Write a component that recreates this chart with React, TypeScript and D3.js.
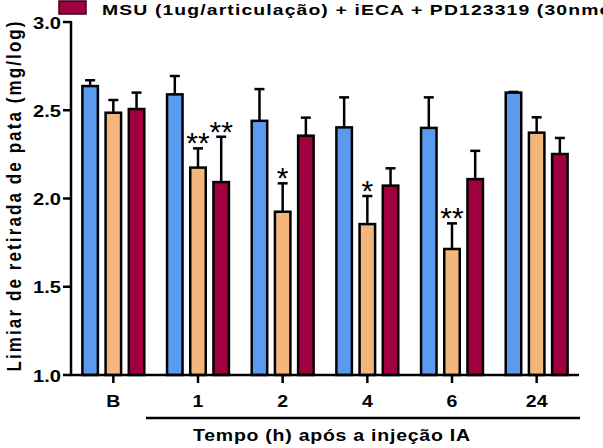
import React from "react";
import * as d3 from "d3";

const categories = ["B", "1", "2", "4", "6", "24"];
const seriesNames = [
  "MSU (1ug/articulação)",
  "MSU (1ug/articulação) + iECA",
  "MSU (1ug/articulação) + iECA + PD123319 (30nmol/articulação)",
];
const blueMean = [2.637, 2.59, 2.44, 2.403, 2.40, 2.60];
const blueSem = [0.033, 0.104, 0.18, 0.17, 0.173, 0.004];
const orangeMean = [2.486, 2.175, 1.925, 1.855, 1.714, 2.373];
const orangeSem = [0.072, 0.109, 0.161, 0.159, 0.145, 0.087];
const redMean = [2.507, 2.093, 2.356, 2.073, 2.11, 2.252];
const redSem = [0.093, 0.257, 0.102, 0.098, 0.16, 0.091];
const orangeStars = ["", "**", "*", "*", "**", ""];
const redStars = ["", "**", "", "", "", ""];
const yTicks = [1.0, 1.5, 2.0, 2.5, 3.0];
const colors = ["#5a9bf0", "#f3b67c", "#a0003f"];
const yLabel = "Limiar de retirada de pata (mg/log)";
const xLabel = "Tempo (h) após a injeção IA";

const W = 603, H = 448;
const x0 = 71, x1 = 579, yTop = 22, yBot = 375;
const FONT = "'Liberation Sans', Arial, sans-serif";
const SX = 1.22;

export default function App() {
  const x = d3.scaleBand<string>().domain(categories).range([x0, x1]).padding(0);
  const y = d3.scaleLinear().domain([1, 3]).range([yBot, yTop]);
  const series = [
    { mean: blueMean, sem: blueSem, stars: categories.map(() => "") },
    { mean: orangeMean, sem: orangeSem, stars: orangeStars },
    { mean: redMean, sem: redSem, stars: redStars },
  ];
  const step = 23.2;
  const bw = 15.5;
  const capW = 10;

  return (
    <svg width={W} height={H} style={{ position: "absolute", left: 0, top: 0, background: "#fff", overflow: "hidden" }}
      fontFamily={FONT}>
      {/* legend (last entry visible, cropped at the top) */}
      <rect x={59} y={1} width={27} height={13} fill={colors[2]} stroke="#3a0016" strokeWidth={1.5} />
      <text transform={`translate(102,15) scale(${SX + 0.03},1)`} fontSize={15.5} fontWeight="bold" letterSpacing={0.9} fill="#000">
        {seriesNames[2]}
      </text>

      {/* bars */}
      {series.map((s, si) =>
        categories.map((c, ci) => {
          const cx = (x(c) as number) + x.bandwidth() / 2 + (si - 1) * step;
          const top = y(s.mean[ci]);
          const eTop = y(s.mean[ci] + s.sem[ci]);
          return (
            <g key={`${si}-${ci}`}>
              <line x1={cx} x2={cx} y1={top} y2={eTop} stroke="#000" strokeWidth={2.5} />
              <line x1={cx - capW / 2} x2={cx + capW / 2} y1={eTop} y2={eTop} stroke="#000" strokeWidth={2.5} />
              <rect x={cx - bw / 2} y={top} width={bw} height={yBot - top} fill={colors[si]} stroke="#000" strokeWidth={2.5} />
              {s.stars[ci] && (
                <text x={cx} y={eTop + 5} textAnchor="middle" fontSize={30} fill="#000">{s.stars[ci]}</text>
              )}
            </g>
          );
        })
      )}

      {/* y axis */}
      <line x1={x0} x2={x0} y1={yTop - 1} y2={yBot + 1} stroke="#000" strokeWidth={2.5} />
      {yTicks.map((t) => (
        <g key={t}>
          <line x1={x0 - 8} x2={x0} y1={y(t)} y2={y(t)} stroke="#000" strokeWidth={2.5} />
          <text transform={`translate(61,${y(t) + 6.5}) scale(${SX},1)`} textAnchor="end" fontSize={16.5} fontWeight="bold">
            {d3.format(".1f")(t)}
          </text>
        </g>
      ))}
      <text transform={`translate(21,196.5) rotate(-90) scale(1,${SX})`} textAnchor="middle" fontSize={17} fontWeight="bold"
        textLength={350} lengthAdjust="spacing">
        {yLabel}
      </text>

      {/* x axis */}
      <line x1={x0 - 1} x2={x1} y1={yBot} y2={yBot} stroke="#000" strokeWidth={2.5} />
      {categories.map((c) => {
        const cx = (x(c) as number) + x.bandwidth() / 2;
        return (
          <g key={c}>
            <line x1={cx} x2={cx} y1={yBot} y2={yBot + 8} stroke="#000" strokeWidth={2.5} />
            <text transform={`translate(${cx},407) scale(${SX},1)`} textAnchor="middle" fontSize={16} fontWeight="bold">{c}</text>
          </g>
        );
      })}
      <line x1={146} x2={x1 + 1} y1={418} y2={418} stroke="#000" strokeWidth={2.5} />
      <text transform={`translate(193,441) scale(${SX},1)`} fontSize={16} fontWeight="bold"
        textLength={277 / SX} lengthAdjust="spacing">
        {xLabel}
      </text>
    </svg>
  );
}
